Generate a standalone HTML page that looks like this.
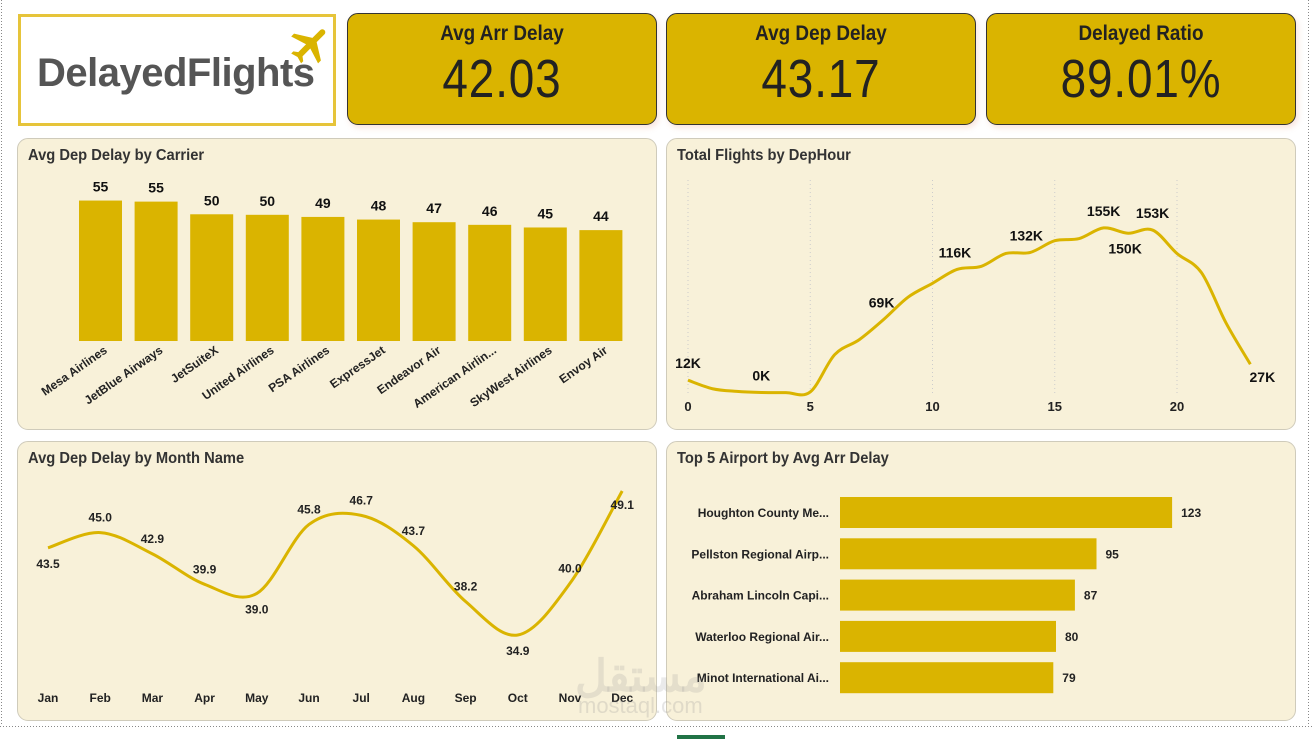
<!DOCTYPE html>
<html><head><meta charset="utf-8">
<style>
body{margin:0;width:1312px;height:739px;background:#fff;overflow:hidden;font-family:"Liberation Sans Narrow","Liberation Sans",sans-serif;position:relative}
.abs{position:absolute;box-sizing:border-box}
.card{background:#dab400;border:1px solid #333;border-radius:11px;text-align:center;color:#222;box-shadow:2px 3px 6px rgba(230,150,120,.25)}
.card .t{font-weight:bold;font-size:21px;margin-top:8px;transform:scaleX(0.9)}
.card .v{font-size:54px;margin-top:2px;letter-spacing:1px;transform:scaleX(0.85)}
.panel{background:#f8f1d9;border:1px solid #cfcbbb;border-radius:11px}
.ptitle{position:absolute;left:10px;top:8px;font-weight:bold;font-size:16px;color:#333;transform:scaleX(0.92);transform-origin:left}
svg text{font-family:"Liberation Sans Narrow","Liberation Sans",sans-serif}
</style></head><body>
<svg class="abs" style="left:0;top:0" width="1312" height="739">
<line x1="1.5" y1="0" x2="1.5" y2="726" stroke="#888" stroke-dasharray="1,2"/>
<line x1="0" y1="726.5" x2="1312" y2="726.5" stroke="#888" stroke-dasharray="1,2"/>
<line x1="1308.5" y1="0" x2="1308.5" y2="726" stroke="#888" stroke-dasharray="1,2"/>
<rect x="677" y="735" width="48" height="4" fill="#217346"/>
</svg>

<div class="abs" style="left:18px;top:14px;width:318px;height:112px;border:3px solid #e6c43a;background:#fff">
<div style="position:absolute;left:16px;top:34px;font-weight:bold;font-size:40px;color:#555;font-family:'Liberation Sans',sans-serif;letter-spacing:-0.5px">DelayedFlights</div>
<svg style="position:absolute;left:266px;top:4px" width="48" height="48" viewBox="0 0 24 24"><path fill="#dab400" d="M21 16v-2l-8-5V3.5a1.5 1.5 0 0 0-3 0V9l-8 5v2l8-2.5V19l-2 1.5V22l3.5-1 3.5 1v-1.5L13 19v-5.5z" transform="rotate(45 12 12)"/></svg>
</div>

<div class="abs card" style="left:347px;top:13px;width:310px;height:112px"><div class="t">Avg Arr Delay</div><div class="v">42.03</div></div>
<div class="abs card" style="left:666px;top:13px;width:310px;height:112px"><div class="t">Avg Dep Delay</div><div class="v">43.17</div></div>
<div class="abs card" style="left:986px;top:13px;width:310px;height:112px"><div class="t">Delayed Ratio</div><div class="v">89.01%</div></div>

<div class="abs panel" style="left:17px;top:138px;width:640px;height:292px"><div class="ptitle">Avg Dep Delay by Carrier</div></div>
<div class="abs panel" style="left:666px;top:138px;width:630px;height:292px"><div class="ptitle">Total Flights by DepHour</div></div>
<div class="abs panel" style="left:17px;top:441px;width:640px;height:280px"><div class="ptitle">Avg Dep Delay by Month Name</div></div>
<div class="abs panel" style="left:666px;top:441px;width:630px;height:280px"><div class="ptitle">Top 5 Airport by Avg Arr Delay</div></div>

<svg id="ch" class="abs" style="left:0;top:0" width="1312" height="739"></svg>

<div class="abs" style="left:575px;top:640px;font-size:44px;color:rgba(150,150,150,.2);font-weight:bold;font-family:'Noto Sans CJK SC',sans-serif">مستقل</div>
<div class="abs" style="left:578px;top:693px;font-size:22px;color:rgba(150,150,150,.25);font-family:'Liberation Sans',sans-serif">mostaql.com</div>

<script>
const carriers=["Mesa Airlines","JetBlue Airways","JetSuiteX","United Airlines","PSA Airlines","ExpressJet","Endeavor Air","American Airlin...","SkyWest Airlines","Envoy Air"];
const carrierDelay=[55.2,54.8,50,49.8,49,48,47,46,45,44];
const carrierLabels=["55","55","50","50","49","48","47","46","45","44"];
const hours=[0,1,2,3,4,5,6,7,8,9,10,11,12,13,14,15,16,17,18,19,20,21,22,23];
const hourFlights=[12,4,1.5,0.5,0.4,1,36,50,69,90,103,116,119,131,132,143,145,155,150,153,131,113,66,27];
const hourTicks=[0,5,10,15,20];
const hourLabelIdx={0:"12K",3:"0K",8:"69K",11:"116K",14:"132K",17:"155K",18:"150K",19:"153K",23:"27K"};
const months=["Jan","Feb","Mar","Apr","May","Jun","Jul","Aug","Sep","Oct","Nov","Dec"];
const monthDelay=[43.5,45.0,42.9,39.9,39.0,45.8,46.7,43.7,38.2,34.9,40.0,49.1];
const airports=["Houghton County Me...","Pellston Regional Airp...","Abraham Lincoln Capi...","Waterloo Regional Air...","Minot International Ai..."];
const airportDelay=[123,95,87,80,79];

const NS="http://www.w3.org/2000/svg",svg=document.getElementById('ch');
function mk(t,a,txt){const e=document.createElementNS(NS,t);for(const k in a)e.setAttribute(k,a[k]);if(txt!==undefined)e.textContent=txt;svg.appendChild(e);return e;}
const GOLD="#dab400";
function smooth(pts){let d="M"+pts[0][0]+","+pts[0][1];for(let i=0;i<pts.length-1;i++){const p0=pts[i-1]||pts[i],p1=pts[i],p2=pts[i+1],p3=pts[i+2]||p2;const c1x=p1[0]+(p2[0]-p0[0])/6,c1y=p1[1]+(p2[1]-p0[1])/6,c2x=p2[0]-(p3[0]-p1[0])/6,c2y=p2[1]-(p3[1]-p1[1])/6;d+=` C${c1x},${c1y} ${c2x},${c2y} ${p2[0]},${p2[1]}`;}return d;}

// carrier bars
const cx=i=>79+i*55.6, cy=v=>341-(v-2)*2.64;
carriers.forEach((c,i)=>{
 const r=mk('rect',{x:cx(i),y:cy(carrierDelay[i]),width:43,height:341-cy(carrierDelay[i]),fill:GOLD});
 
 
 const l=mk('text',{x:cx(i)+21.5,y:cy(carrierDelay[i])-9,'text-anchor':'middle','font-size':14,'font-weight':'bold',fill:'#111'},carrierLabels[i]);
 
 
 const t=mk('text',{x:cx(i)+29,y:352,'text-anchor':'end','font-size':12,'font-weight':'bold',fill:'#222',transform:`rotate(-35 ${cx(i)+29} 352)`},c);
 
 
});

// dep hour line
const hx=h=>688+h*24.45, hy=v=>393-v*1.065;
hourTicks.forEach(t=>{
 const g=mk('line',{x1:hx(t),x2:hx(t),y1:180,y2:393,stroke:'#ccc','stroke-dasharray':'1,3'});
 
 
 const tl=mk('text',{x:hx(t),y:411,'text-anchor':'middle','font-size':13,'font-weight':'bold',fill:'#222'},t);
 
 
});
const hp=mk('path',{d:smooth(hours.map((h,i)=>[hx(h),hy(hourFlights[i])])),fill:'none',stroke:GOLD,'stroke-width':3});


const hoff={0:[0,-12],3:[0,-12],8:[-2,-12],11:[-2,-12],14:[-4,-12],17:[0,-12],18:[-3,20],19:[0,-12],23:[12,18]};
for(const k in hourLabelIdx){const i=+k;const o=hoff[i];
 const l=mk('text',{x:hx(hours[i])+o[0],y:hy(hourFlights[i])+o[1],'text-anchor':'middle','font-size':14,'font-weight':'bold',fill:'#111'},hourLabelIdx[k]);
 
 }

// month line
const mx=i=>48+i*52.2, my=v=>635-(v-34.9)*10.14;
const mp=mk('path',{d:smooth(months.map((m,i)=>[mx(i),my(monthDelay[i])])),fill:'none',stroke:GOLD,'stroke-width':3});


const moff=[[0,20],[0,-11],[0,-11],[0,-11],[0,20],[0,-11],[0,-11],[0,-11],[0,-11],[0,20],[0,-11],[0,18]];
months.forEach((m,i)=>{
 const l=mk('text',{x:mx(i)+moff[i][0],y:my(monthDelay[i])+moff[i][1],'text-anchor':'middle','font-size':12,'font-weight':'bold',fill:'#222'},monthDelay[i].toFixed(1));
 
 
 const t=mk('text',{x:mx(i),y:702,'text-anchor':'middle','font-size':12,'font-weight':'bold',fill:'#222'},m);
 
 
});

// airport bars
const ax=v=>840+v*2.7, ay=i=>497+i*41.3;
airports.forEach((a,i)=>{
 const r=mk('rect',{x:840,y:ay(i),width:ax(airportDelay[i])-840,height:31,fill:GOLD});
 
 
 const t=mk('text',{x:829,y:ay(i)+20,'text-anchor':'end','font-size':12,'font-weight':'bold',fill:'#222'},a);
 
 
 const v=mk('text',{x:ax(airportDelay[i])+9,y:ay(i)+20,'font-size':12,'font-weight':'bold',fill:'#222'},airportDelay[i]);
 
 
});
</script>
</body></html>
